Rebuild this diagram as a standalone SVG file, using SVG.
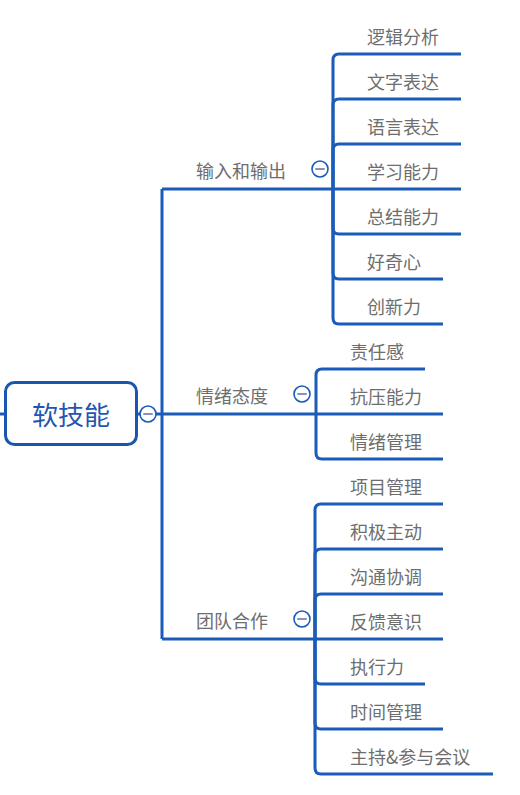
<svg xmlns="http://www.w3.org/2000/svg" width="520" height="795" viewBox="0 0 520 795">
<style>
.ln{fill:none;stroke:#1a5cb8;stroke-width:3;stroke-linecap:butt;stroke-linejoin:round}
.t{font-family:"Noto Sans CJK SC","Noto Sans",sans-serif;font-size:18px;fill:#6e6e6e;dominant-baseline:central}
.root{font-family:"Noto Sans CJK SC","Noto Sans",sans-serif;font-size:26px;fill:#1f56b0;text-anchor:middle;dominant-baseline:central}
.cc{fill:#fff;stroke:#1a5cb8;stroke-width:1.6}
.mn{stroke:#8a8fc4;stroke-width:2;stroke-linecap:round}
</style>
<rect width="520" height="795" fill="#fff"/>
<g id="connectors">
  <path class="ln" d="M0 414 H5"/>
  <path class="ln" d="M137 414 H316"/>
  <path class="ln" d="M162 189 V639"/>
  <path class="ln" d="M162 189 H333"/>
  <path class="ln" d="M162 639 H315"/>
  <path class="ln" d="M333 189 V60 Q333 54 339 54 H461"/>
  <path class="ln" d="M333 189 V105 Q333 99 339 99 H461"/>
  <path class="ln" d="M333 189 V150 Q333 144 339 144 H461"/>
  <path class="ln" d="M333 189 H461"/>
  <path class="ln" d="M333 189 V228 Q333 234 339 234 H461"/>
  <path class="ln" d="M333 189 V273 Q333 279 339 279 H443"/>
  <path class="ln" d="M333 189 V318 Q333 324 339 324 H443"/>
  <path class="ln" d="M316 414 V375 Q316 369 322 369 H425"/>
  <path class="ln" d="M316 414 H443"/>
  <path class="ln" d="M316 414 V453 Q316 459 322 459 H443"/>
  <path class="ln" d="M315 639 V510 Q315 504 321 504 H443"/>
  <path class="ln" d="M315 639 V555 Q315 549 321 549 H443"/>
  <path class="ln" d="M315 639 V600 Q315 594 321 594 H443"/>
  <path class="ln" d="M315 639 H443"/>
  <path class="ln" d="M315 639 V678 Q315 684 321 684 H425"/>
  <path class="ln" d="M315 639 V723 Q315 729 321 729 H443"/>
  <path class="ln" d="M315 639 V768 Q315 774 321 774 H493"/>
</g>
<g id="root">
  <rect x="5.5" y="382.5" width="131" height="62" rx="9" fill="#fff" stroke="#1a56b0" stroke-width="3"/>
  <text class="root" x="71" y="413">软技能</text>
  <circle class="cc" cx="148" cy="414" r="8"/>
  <line class="mn" x1="144" y1="414" x2="152" y2="414"/>
</g>
<g id="g1">
  <text class="t" x="196" y="170">输入和输出</text>
  <circle class="cc" cx="320" cy="169" r="8"/>
  <line class="mn" x1="316" y1="169" x2="324" y2="169"/>
</g>
<g id="g2">
  <text class="t" x="196" y="395">情绪态度</text>
  <circle class="cc" cx="302" cy="394" r="8"/>
  <line class="mn" x1="298" y1="394" x2="306" y2="394"/>
</g>
<g id="g3">
  <text class="t" x="196" y="620">团队合作</text>
  <circle class="cc" cx="302" cy="619" r="8"/>
  <line class="mn" x1="298" y1="619" x2="306" y2="619"/>
</g>
<g id="c1-1"><text class="t" x="367" y="36">逻辑分析</text></g>
<g id="c1-2"><text class="t" x="367" y="81">文字表达</text></g>
<g id="c1-3"><text class="t" x="367" y="126">语言表达</text></g>
<g id="c1-4"><text class="t" x="367" y="171">学习能力</text></g>
<g id="c1-5"><text class="t" x="367" y="216">总结能力</text></g>
<g id="c1-6"><text class="t" x="367" y="261">好奇心</text></g>
<g id="c1-7"><text class="t" x="367" y="306">创新力</text></g>
<g id="c2-1"><text class="t" x="350" y="351">责任感</text></g>
<g id="c2-2"><text class="t" x="350" y="396">抗压能力</text></g>
<g id="c2-3"><text class="t" x="350" y="441">情绪管理</text></g>
<g id="c3-1"><text class="t" x="350" y="486">项目管理</text></g>
<g id="c3-2"><text class="t" x="350" y="531">积极主动</text></g>
<g id="c3-3"><text class="t" x="350" y="576">沟通协调</text></g>
<g id="c3-4"><text class="t" x="350" y="621">反馈意识</text></g>
<g id="c3-5"><text class="t" x="350" y="666">执行力</text></g>
<g id="c3-6"><text class="t" x="350" y="711">时间管理</text></g>
<g id="c3-7"><text class="t" x="350" y="756">主持&amp;参与会议</text></g>
</svg>
